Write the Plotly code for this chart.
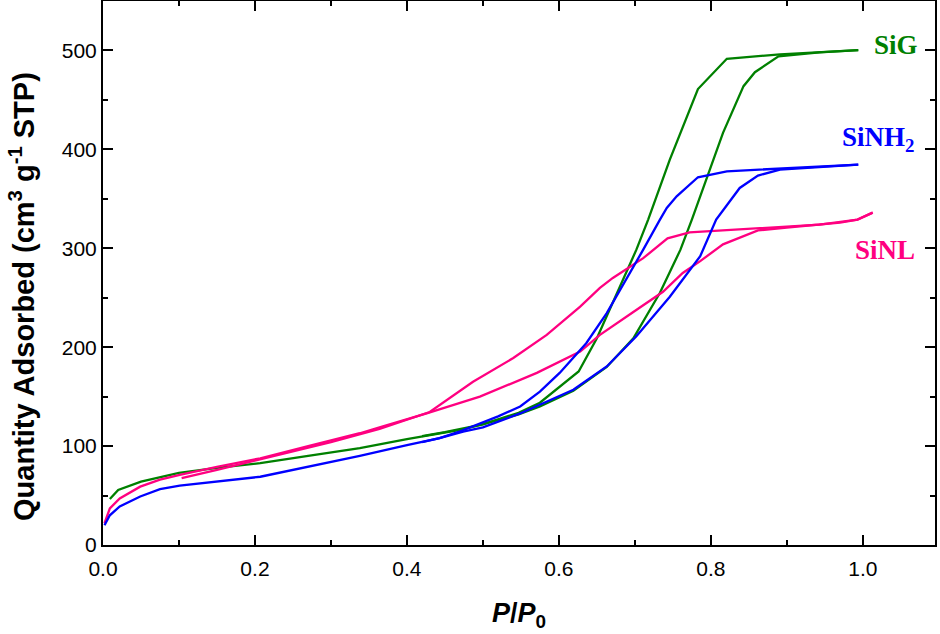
import plotly.graph_objects as go

# SiG (green)
sig_ads_x = [0.009, 0.02, 0.05, 0.075, 0.10, 0.15, 0.207, 0.27, 0.338, 0.40, 0.443, 0.474, 0.547, 0.575, 0.619, 0.663, 0.698, 0.733, 0.760, 0.775, 0.816, 0.843, 0.858, 0.889, 0.943, 0.994]
sig_ads_y = [46.5, 55.7, 64, 68.5, 73, 78, 82.7, 90, 97.9, 107, 113, 117, 132, 140, 156, 180, 209, 255, 298.6, 329, 416.7, 463.9, 478, 494, 498, 500.3]
sig_des_x = [0.994, 0.943, 0.891, 0.821, 0.783, 0.746, 0.7175, 0.702, 0.65, 0.626, 0.575, 0.547, 0.50, 0.45, 0.42]
sig_des_y = [500.3, 498.3, 496, 491.6, 461, 389.7, 329, 298.6, 209, 175.4, 143.8, 133.7, 122, 114, 110]

# SiNH2 (blue)
sinh_ads_x = [0.002, 0.009, 0.022, 0.049, 0.075, 0.101, 0.207, 0.27, 0.338, 0.40, 0.443, 0.474, 0.50, 0.549, 0.619, 0.663, 0.702, 0.746, 0.786, 0.807, 0.838, 0.862, 0.891, 0.994]
sinh_ads_y = [20, 30, 39, 49, 56.4, 60, 69, 79, 90, 101, 108, 114.7, 119, 133, 157, 180.5, 211, 251, 292, 329, 361, 373.5, 379.6, 384.6]
sinh_des_x = [0.994, 0.904, 0.821, 0.783, 0.755, 0.742, 0.733, 0.711, 0.663, 0.636, 0.601, 0.575, 0.549, 0.52, 0.49, 0.47, 0.443, 0.42]
sinh_des_y = [384.6, 381, 377.8, 371.8, 352.5, 340.8, 329, 298.6, 234.5, 204, 174, 155, 140, 130, 121, 115, 108, 104]

# SiNL (pink)
sinl_ads_x = [0.002, 0.009, 0.022, 0.049, 0.075, 0.101, 0.15, 0.207, 0.27, 0.338, 0.364, 0.426, 0.496, 0.571, 0.628, 0.654, 0.697, 0.737, 0.763, 0.786, 0.816, 0.862, 0.90, 0.943, 0.97, 0.993, 1.013]
sinl_ads_y = [22, 37, 47, 59, 66, 71, 79, 87.7, 100, 113, 119, 133, 150, 174, 195.6, 212.5, 235, 256, 275, 287, 304, 318, 321, 324, 326, 329, 336]
sinl_des_x = [1.013, 0.993, 0.943, 0.86, 0.786, 0.772, 0.743, 0.711, 0.671, 0.654, 0.628, 0.584, 0.54, 0.487, 0.43, 0.364, 0.30, 0.25, 0.20, 0.15, 0.1035]
sinl_des_y = [336, 329, 324, 320, 316, 316, 310, 290, 270, 260, 241, 212.5, 189, 165, 134.5, 117.5, 104, 94.5, 85, 76, 67.5]

x_tickvals = [0.0, 0.2, 0.4, 0.6, 0.8, 1.0]
x_ticktext = ["0.0", "0.2", "0.4", "0.6", "0.8", "1.0"]
y_tickvals = [0, 100, 200, 300, 400, 500]

GREEN = "#008000"
BLUE = "#0000FF"
PINK = "#FF0080"

fig = go.Figure()
for xs, ys, c in [
    (sig_ads_x, sig_ads_y, GREEN), (sig_des_x, sig_des_y, GREEN),
    (sinl_ads_x, sinl_ads_y, PINK), (sinl_des_x, sinl_des_y, PINK),
    (sinh_ads_x, sinh_ads_y, BLUE), (sinh_des_x, sinh_des_y, BLUE),
]:
    fig.add_trace(go.Scatter(x=xs, y=ys, mode="lines", line=dict(color=c, width=2.3), showlegend=False, hoverinfo="skip"))

ann_font = "Liberation Serif, Times New Roman, serif"
fig.add_annotation(x=1.012, y=506, text="<b>SiG</b>", showarrow=False, xanchor="left", yanchor="middle",
                   font=dict(family=ann_font, size=27, color=GREEN))
fig.add_annotation(x=0.970, y=410, text="<b>SiNH<sub>2</sub></b>", showarrow=False, xanchor="left", yanchor="middle",
                   font=dict(family=ann_font, size=27, color=BLUE))
fig.add_annotation(x=0.987, y=298, text="<b>SiNL</b>", showarrow=False, xanchor="left", yanchor="middle",
                   font=dict(family=ann_font, size=27, color=PINK))

sans = "Liberation Sans, Arial, sans-serif"
# y-axis title as rotated annotation
fig.add_annotation(xref="paper", yref="paper", x=-0.0974, y=0.4577, textangle=-90,
                   text="<b>Quantity Adsorbed (cm<sup>3</sup> g<sup>-1</sup> STP)</b>", showarrow=False,
                   xanchor="center", yanchor="middle", font=dict(family=sans, size=29, color="black"))

axfont = dict(family=sans, size=21, color="black")
fig.update_layout(
    width=940, height=634,
    margin=dict(l=103, r=5, t=1, b=89, autoexpand=False),
    paper_bgcolor="white", plot_bgcolor="white",
    showlegend=False,
    font=axfont,
)
fig.update_xaxes(
    range=[0, 1.095], tickvals=x_tickvals, ticktext=x_ticktext, automargin=False,
    ticks="inside", ticklen=10, tickwidth=2, tickcolor="black", ticklabelstandoff=4,
    showline=True, linewidth=2, linecolor="black", mirror="allticks",
    showgrid=False, zeroline=False, tickfont=axfont,
    minor=dict(tickvals=[0.1, 0.3, 0.5, 0.7, 0.9], ticks="inside", ticklen=5, tickwidth=2, tickcolor="black", showgrid=False),
    title=dict(text="<b><i>P</i>/<i>P</i><sub>0</sub></b>", font=dict(family=sans, size=27), standoff=24),
)
fig.update_yaxes(
    range=[0, 550], tickvals=y_tickvals, automargin=False,
    ticks="inside", ticklen=10, tickwidth=2, tickcolor="black",
    showline=True, linewidth=2, linecolor="black", mirror="allticks",
    showgrid=False, zeroline=False, tickfont=axfont,
    minor=dict(tickvals=[50, 150, 250, 350, 450], ticks="inside", ticklen=5, tickwidth=2, tickcolor="black", showgrid=False),
)
fig.write_html("out.html", config={"displayModeBar": False},
               post_script="document.body.style.margin='0';document.body.style.overflow='hidden';")
